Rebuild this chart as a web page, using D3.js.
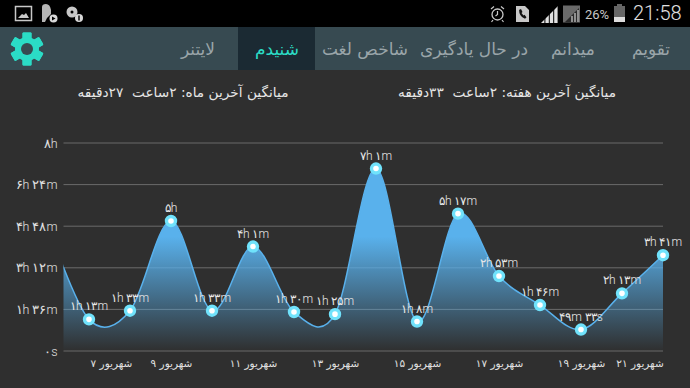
<!DOCTYPE html>
<html>
<head>
<meta charset="utf-8">
<script src="https://cdnjs.cloudflare.com/ajax/libs/d3/7.8.5/d3.min.js"></script>
<style>
html,body{margin:0;padding:0;background:#2f2f2f;overflow:hidden;}
text{font-family:"DejaVu Sans",sans-serif;}
.num{font-family:Roboto,"DejaVu Sans",sans-serif;font-weight:300;}
</style>
</head>
<body>
<svg id="system" width="690" height="388"></svg>
<script>
// minutes per day, the first one sits left of the plot and is clipped
var days = [6,7,8,9,10,11,12,13,14,15,16,17,18,19,20,21];
var minutes = [290,73,93,300,93,241,90,85,421,68,317,173,106,49.5,133,221];
var pointLabels = ["","۱h ۱۳m","۱h ۳۳m","۵h","۱h ۳۳m","۴h ۱m","۱h ۳۰m","۱h ۲۵m","۷h ۱m","۱h ۸m","۵h ۱۷m","۲h ۵۳m","۱h ۴۶m","۴۹m ۳۳s","۲h ۱۳m","۳h ۴۱m"];
var yTicks = [0,96,192,288,384,480];
var yTickLabels = ["۰s","۱h ۳۶m","۳h ۱۲m","۴h ۴۸m","۶h ۲۴m","۸h"];
var xTickDays = [7,9,11,13,15,17,19,21];
var tabs = ["تقویم","میدانم","در حال یادگیری","شاخص لغت","شنیدم","لایتنر"];
var tabCenters = [651,573,474,365,277,198];
var averages = ["میانگین آخرین هفته: ۲ساعت  ۳۳دقیقه","میانگین آخرین ماه: ۲ساعت  ۲۷دقیقه"];

var svg = d3.select("#system");
var toFa = s => String(s).replace(/[0-9]/g, d => "۰۱۲۳۴۵۶۷۸۹"[d]);

var x = d3.scaleLinear().domain([6,21]).range([48,663]);
var y = d3.scaleLinear().domain([0,480]).range([351,143]);

var defs = svg.append("defs");
var grad = defs.append("linearGradient").attr("id","areaFill")
    .attr("gradientUnits","userSpaceOnUse")
    .attr("x1",0).attr("y1",143).attr("x2",0).attr("y2",351);
grad.append("stop").attr("offset","45%").attr("stop-color","#59b1ec").attr("stop-opacity",1);
grad.append("stop").attr("offset","100%").attr("stop-color","#59b1ec").attr("stop-opacity",0);
defs.append("clipPath").attr("id","plotClip").append("rect")
    .attr("x",63.5).attr("y",120).attr("width",599.5).attr("height",240);

// status bar + tab bar
svg.append("rect").attr("width",690).attr("height",27).attr("fill","#000");
svg.append("rect").attr("y",27).attr("width",690).attr("height",43).attr("fill","#374a51");
svg.append("rect").attr("x",238).attr("y",27).attr("width",77).attr("height",43).attr("fill","#1b2a33");

svg.selectAll(".tab").data(tabs).enter().append("text")
    .attr("class","tab")
    .attr("x",(d,i)=>tabCenters[i]).attr("y",55)
    .attr("text-anchor","middle").attr("font-size",17)
    .attr("fill",(d,i)=> i==4 ? "#2bdcc6" : "#9aa5a9")
    .text(d=>d);

// gear
var gear = svg.append("g").attr("transform","translate(27,49)");
var teeth = d3.range(6).map(i=>i*60);
gear.selectAll("rect").data(teeth).enter().append("rect")
    .attr("x",-4.5).attr("y",-16.5).attr("width",9).attr("height",33).attr("rx",1)
    .attr("fill","#2bdcc6").attr("transform",d=>"rotate("+d+")");
gear.append("circle").attr("r",12).attr("fill","#2bdcc6");
gear.append("circle").attr("r",6).attr("fill","#374a51");

// status icons
var icons = svg.append("g");
icons.append("rect").attr("x",15.5).attr("y",6.5).attr("width",16).attr("height",14).attr("fill","none").attr("stroke","#c8c8c8").attr("stroke-width",1.5);
icons.append("path").attr("d","M18 18l4-4 2 1 2-2 3 5z").attr("fill","#c8c8c8");
icons.append("path").attr("d","M42 22V7q0-3 4-3t5 6v4l-4 4-2 4z").attr("fill","#b5b5b5");
icons.append("circle").attr("cx",53.5).attr("cy",18.5).attr("r",4).attr("fill","#d8d8d8");
icons.append("path").attr("d","M52 16.5l3.5 2-3.5 2z").attr("fill","#000");
icons.append("circle").attr("cx",72).attr("cy",12).attr("r",5.5).attr("fill","#c8c8c8");
icons.append("circle").attr("cx",72).attr("cy",12).attr("r",1.5).attr("fill","#000");
icons.append("circle").attr("cx",79).attr("cy",18).attr("r",4).attr("fill","#d8d8d8");
icons.append("rect").attr("x",78.3).attr("y",15.5).attr("width",1.4).attr("height",5).attr("fill","#000");
icons.append("circle").attr("cx",497.5).attr("cy",14.5).attr("r",5.5).attr("fill","none").attr("stroke","#c8c8c8").attr("stroke-width",1.3);
icons.append("path").attr("d","M497.5 11v3.5l-2 1.5M491 9l3-2.5M504 9l-3-2.5M493 20l-1.5 2M502 20l1.5 2").attr("fill","none").attr("stroke","#c8c8c8").attr("stroke-width",1.2);
icons.append("path").attr("d","M516 6h9l4 4v12h-13z").attr("fill","#c8c8c8");
icons.append("path").attr("d","M519 10l2-1 1.5 3-1 1 2 2.5 1-.7 2 2.5-1.5 1.5q-6-2-6-9.800z").attr("fill","#111");
var signalClip = defs.append("clipPath").attr("id","signalClip");
signalClip.append("path").attr("d","M541 23l17-17v17z");
icons.append("g").attr("clip-path","url(#signalClip)").selectAll("rect").data(d3.range(4)).enter().append("rect")
    .attr("x",d=>541+d*4.4).attr("y",5).attr("width",3.4).attr("height",18).attr("fill","#e0e0e0");
icons.append("rect").attr("x",563).attr("y",5.5).attr("width",17).attr("height",17).attr("fill","#6a6a6a");
icons.append("path").attr("d","M565 22l14-14v14z").attr("fill","#2a2a2a");
icons.append("path").attr("d","M572 22v-6M575 22v-9M578 22v-12").attr("stroke","#bbb").attr("stroke-width",1.4);
icons.append("text").attr("class","num").attr("x",585).attr("y",19).attr("font-size",13).attr("fill","#c8c8c8").style("font-weight",400).text("26%");
icons.append("rect").attr("x",617).attr("y",4).attr("width",5).attr("height",2).attr("fill","#666");
icons.append("rect").attr("x",614).attr("y",6).attr("width",11).attr("height",16).attr("fill","#666");
icons.append("rect").attr("x",614).attr("y",17).attr("width",11).attr("height",5).attr("fill","#ddd");
icons.append("text").attr("class","num").attr("x",633).attr("y",20).attr("font-size",20).attr("fill","#e0e0e0").text("21:58");

// averages
svg.selectAll(".avg").data(averages).enter().append("text")
    .attr("class","avg").attr("x",(d,i)=> i==0 ? 507 : 183).attr("y",97)
    .attr("text-anchor","middle").attr("font-size",13.700).attr("fill","#e6e6e6")
    .style("white-space","pre")
    .text(d=>d);

// grid
var gridLayer = svg.append("g");
gridLayer.selectAll("line").data(yTicks).enter().append("line")
    .attr("x1",63.5).attr("x2",663)
    .attr("y1",d=>y(d)).attr("y2",d=>y(d))
    .attr("stroke","#6b6b6b").attr("stroke-width",1);

// axis labels
var yAxis = d3.axisLeft(y).tickValues(yTicks).tickSize(0).tickPadding(6)
    .tickFormat((d,i)=>yTickLabels[i]);
var yAxisG = svg.append("g").attr("transform","translate(63.5,0)").call(yAxis);
yAxisG.select(".domain").remove();
yAxisG.selectAll("text").attr("class","num").attr("font-size",12.5).attr("fill","#e0e0e0")
    .attr("font-family",null).style("direction","ltr");

var xAxis = d3.axisBottom(x).tickValues(xTickDays).tickSize(0).tickPadding(0)
    .tickFormat(d=>toFa(d)+" شهریور");
var xAxisG = svg.append("g").attr("transform","translate(0,359.500)").call(xAxis);
xAxisG.select(".domain").remove();
xAxisG.selectAll("text").attr("font-size",10.5).attr("fill","#e0e0e0")
    .attr("font-family","DejaVu Sans")
    .attr("dx",d=> d==7 ? 22 : d==21 ? -23.5 : 0);

// area + line
var curve = d3.curveCatmullRom.alpha(0);
var area = d3.area().x((d,i)=>x(days[i])).y0(y(0)).y1(d=>y(d)).curve(curve);
var line = d3.line().x((d,i)=>x(days[i])).y(d=>y(d)).curve(curve);
var plot = svg.append("g").attr("clip-path","url(#plotClip)");
plot.append("path").datum(minutes).attr("d",area).attr("fill","url(#areaFill)");
plot.append("path").datum(minutes).attr("d",line).attr("fill","none")
    .attr("stroke","#59b1ec").attr("stroke-width",1.5);

// points
var idx = d3.range(1,days.length);
svg.selectAll(".dot").data(idx).enter().append("circle").attr("class","dot")
    .attr("cx",i=>x(days[i])).attr("cy",i=>y(minutes[i])).attr("r",4.500)
    .attr("fill","#fff").attr("stroke","#70e2fb").attr("stroke-width",3.400);

svg.selectAll(".plabel").data(idx).enter().append("text").attr("class","plabel num")
    .attr("x",i=>x(days[i])).attr("y",i=>y(minutes[i])-9)
    .attr("text-anchor","middle").attr("font-size",12).attr("fill","#e8e8e8")
    .style("direction","ltr")
    .text(i=>pointLabels[i]);
</script>
</body>
</html>
